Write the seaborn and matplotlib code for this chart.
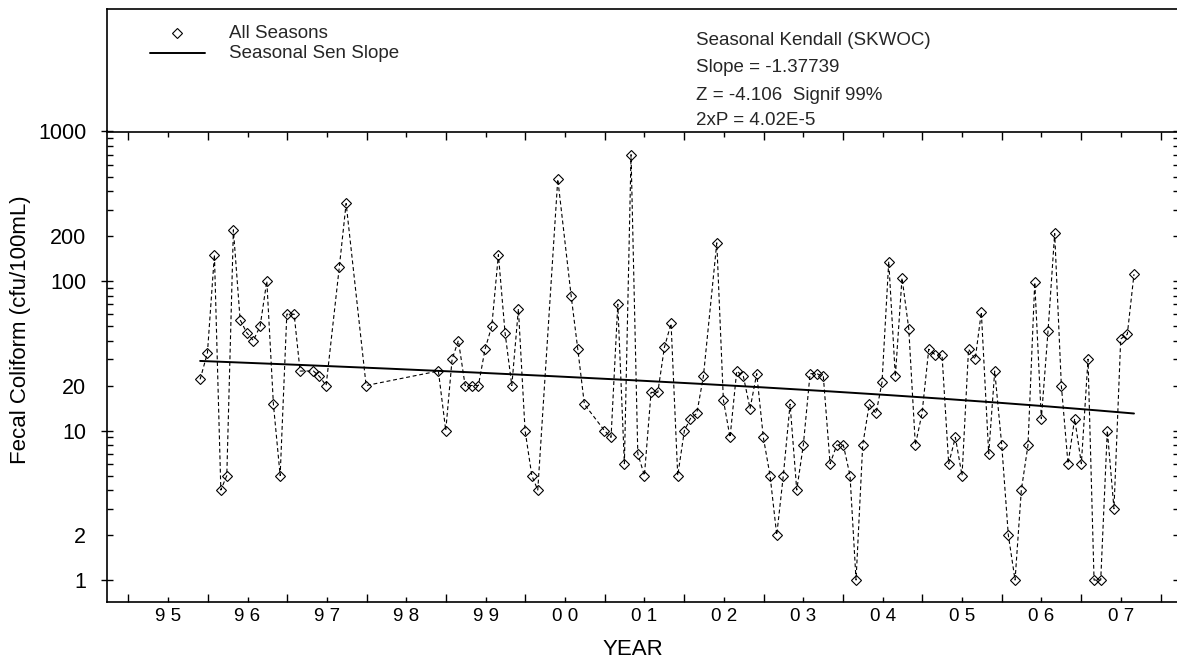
import numpy as np
import pandas as pd
import matplotlib
matplotlib.use("Agg")
import matplotlib.pyplot as plt
import seaborn as sns
from matplotlib.ticker import FixedLocator, FixedFormatter, FuncFormatter, NullFormatter
from matplotlib.lines import Line2D

# Sample dates (decimal years) and fecal coliform counts (cfu/100mL)
sample_year = [
    1995.903, 1995.995, 1996.083, 1996.164, 1996.239, 1996.322, 1996.407, 1996.491,
    1996.574, 1996.659, 1996.743, 1996.826, 1996.911, 1996.995, 1997.087, 1997.162,
    1997.330, 1997.406, 1997.490, 1997.657, 1997.742, 1997.994,
    1998.904, 1998.997, 1999.077, 1999.156, 1999.241, 1999.325, 1999.408, 1999.492,
    1999.577, 1999.660, 1999.744, 1999.829, 1999.912, 1999.996, 2000.081, 2000.156,
    2000.408, 2000.576, 2000.660, 2000.743, 2000.995, 2001.079, 2001.164, 2001.247,
    2001.331, 2001.416, 2001.499, 2001.583, 2001.668, 2001.751, 2001.835, 2001.919,
    2002.003, 2002.078, 2002.159, 2002.242, 2002.411, 2002.494, 2002.578, 2002.662,
    2002.746, 2002.830, 2002.914, 2002.997, 2003.082, 2003.166, 2003.249, 2003.334,
    2003.418, 2003.501, 2003.586, 2003.670, 2003.753, 2003.838, 2003.922, 2004.005,
    2004.089, 2004.165, 2004.249, 2004.332, 2004.417, 2004.492, 2004.577, 2004.660,
    2004.744, 2004.829, 2004.912, 2004.996, 2005.081, 2005.164, 2005.248, 2005.332,
    2005.416, 2005.500, 2005.582, 2005.666, 2005.743, 2005.836, 2005.912, 2006.000,
    2006.083, 2006.168, 2006.247, 2006.331, 2006.416, 2006.499, 2006.583, 2006.667,
    2006.751, 2006.835, 2006.919, 2007.003, 2007.087, 2007.163, 2007.247, 2007.330,
    2007.414, 2007.499, 2007.582, 2007.666,
]
fecal_coliform = [
    22, 33, 150, 4, 5, 220, 55, 45, 40, 50, 100, 15, 5, 60, 60, 25, 25, 23, 20, 125, 330, 20,
    25, 10, 30, 40, 20, 20, 20, 35, 50, 150, 45, 20, 65, 10, 5, 4,
    480, 80, 35, 15, 10, 9, 70, 6, 700, 7, 5, 18, 18, 36, 52, 5,
    10, 12, 13, 23, 180, 16, 9, 25, 23, 14, 24, 9, 5, 2, 5, 15,
    4, 8, 24, 24, 23, 6, 8, 8, 5, 1, 8, 15, 13, 21, 135, 23,
    105, 48, 8, 13, 35, 32, 32, 6, 9, 5, 35, 30, 62, 7, 25, 8,
    2, 1, 4, 8, 98, 12, 46, 208, 20, 6, 12, 6, 30, 1, 1, 10,
    3, 41, 44, 111,
]

year_ticks = list(range(1995, 2009))
year_labels = ["9 5", "9 6", "9 7", "9 8", "9 9", "0 0", "0 1",
               "0 2", "0 3", "0 4", "0 5", "0 6", "0 7"]
y_major = [1, 10, 100, 1000]
y_labeled_minor = [2, 20, 200]

# Seasonal Sen slope trend (cfu/100mL per year)
sen_slope = -1.37739
sen_start_year = 1995.903
sen_end_year = 2007.666
sen_start_value = 29.2

stats_lines = [
    "Seasonal Kendall (SKWOC)",
    "Slope = -1.37739",
    "Z = -4.106  Signif 99%",
    "2xP = 4.02E-5",
]
legend_labels = ["All Seasons", "Seasonal Sen Slope"]

sns.set_theme(style="white")
plt.rcParams["font.family"] = ["Liberation Sans", "DejaVu Sans"]

W, H = 1177, 662
fig = plt.figure(figsize=(W / 100, H / 100), dpi=100)


def fx(px):
    return px / W


def fy(py):
    return 1 - py / H


# header panel holding legend and statistics
hdr = fig.add_axes([fx(107), fy(131.5), 1.2, fy(9) - fy(131.5)])
hdr.set_xticks([])
hdr.set_yticks([])
hdr.set_facecolor("none")
for side in ("right", "bottom"):
    hdr.spines[side].set_visible(False)
for side in ("left", "top"):
    hdr.spines[side].set_color("black")
    hdr.spines[side].set_linewidth(1.2)

# main plot
ax = fig.add_axes([fx(107), fy(602), fx(1179) - fx(107), fy(131.5) - fy(602)])
ax.set_facecolor("white")

df = pd.DataFrame({"year": sample_year, "fc": fecal_coliform})
sns.lineplot(data=df, x="year", y="fc", ax=ax, sort=False, color="black",
             linewidth=0.8, marker="D", markersize=4.6)
obs_line = ax.lines[-1]
obs_line.set_linestyle((0, (3.5, 2.5)))
obs_line.set_markerfacecolor("none")
obs_line.set_markeredgecolor("black")
obs_line.set_markeredgewidth(0.8)

trend_years = np.linspace(sen_start_year, sen_end_year, 200)
trend_vals = sen_start_value + sen_slope * (trend_years - sen_start_year)
sns.lineplot(x=trend_years, y=trend_vals, ax=ax, sort=False, color="black", linewidth=1.4)

ax.set_yscale("log")
ax.set_ylim(0.713, 1000)
ax.set_xlim(1994.73, 2008.233)

ax.xaxis.set_major_locator(FixedLocator(year_ticks))
ax.xaxis.set_major_formatter(NullFormatter())
ax.xaxis.set_minor_locator(FixedLocator([y + 0.5 for y in year_ticks[:-1]]))
ax.xaxis.set_minor_formatter(FixedFormatter(year_labels))

minor_y = [m * 10 ** k for k in range(3) for m in range(2, 10)]
ax.yaxis.set_major_locator(FixedLocator(y_major))
ax.yaxis.set_major_formatter(FuncFormatter(lambda v, p: f"{int(round(v))}"))
ax.yaxis.set_minor_locator(FixedLocator(minor_y))
ax.yaxis.set_minor_formatter(FuncFormatter(
    lambda v, p: f"{int(round(v))}" if int(round(v)) in y_labeled_minor else ""))

ax.tick_params(axis="x", which="major", direction="in", length=6, width=1,
               color="black", top=True, bottom=True)
ax.tick_params(axis="x", which="minor", direction="in", length=3.5, width=1,
               color="black", top=True, bottom=True, labelbottom=True,
               labelsize=13.5, pad=4, labelcolor="black")
ax.tick_params(axis="y", which="major", direction="inout", length=8, width=1,
               color="black", left=True, right=True, labelsize=15.5, pad=11,
               labelcolor="black")
ax.tick_params(axis="y", which="minor", direction="in", length=4, width=1,
               color="black", left=True, right=True, labelleft=True,
               labelsize=15.5, pad=15, labelcolor="black")

for side in ax.spines.values():
    side.set_color("black")
    side.set_linewidth(1.2)
ax.grid(False)

ax.set_xlabel("YEAR", fontsize=16, color="black")
ax.xaxis.set_label_coords((633 - 107) / (1179 - 107), (602 - 639) / (602 - 131.5))
ax.set_ylabel("Fecal Coliform (cfu/100mL)", fontsize=16, color="black")
ax.yaxis.set_label_coords((31 - 107) / (1179 - 107), (602 - 330) / (602 - 131.5))

# legend entries
fig.add_artist(Line2D([fx(177)], [fy(33)], marker="D", markersize=4.6,
                      markerfacecolor="none", markeredgecolor="black",
                      markeredgewidth=0.8, linestyle="none"))
fig.add_artist(Line2D([fx(150), fx(205)], [fy(53), fy(53)], color="black", linewidth=1.4))
fig.text(fx(229), fy(33.5), legend_labels[0], fontsize=13.5, va="center", ha="left")
fig.text(fx(229), fy(53.5), legend_labels[1], fontsize=13.5, va="center", ha="left")

for text, ypos in zip(stats_lines, [40.5, 68, 95.5, 120.5]):
    fig.text(fx(696), fy(ypos), text, fontsize=13.5, va="center", ha="left")

fig.savefig("out.png", dpi=100)
